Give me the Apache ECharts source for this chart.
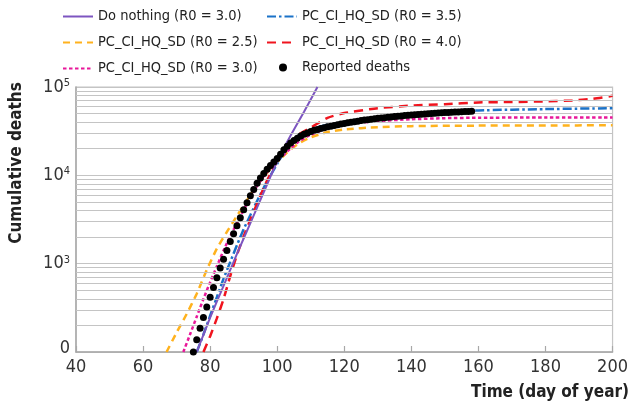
<!DOCTYPE html>
<html><head><meta charset="utf-8">
<script src="https://cdn.jsdelivr.net/npm/echarts@6/dist/echarts.min.js"></script>
<style>html,body{margin:0;padding:0;background:#fff}#c{width:631px;height:406px}</style>
</head><body><div id="c"></div>
<script>
// ---- data ----
const xTicks = [40, 60, 80, 100, 120, 140, 160, 180, 200];
const yMajorTicks = [100, 1000, 10000, 100000];
const yMajorLabels = ['0', '10|3', '10|4', '10|5'];
const yMinorGrid = [200,300,400,500,600,700,800,900,2000,3000,4000,5000,6000,7000,8000,9000,20000,30000,40000,50000,60000,70000,80000,90000];

const doNothingDays = [76, 80, 84, 88, 92, 96, 100, 104, 108, 112];
const doNothingVals = [100, 245, 562, 1288, 2884, 6457, 14454, 28184, 52481, 100000];

const r25Days = [67, 70, 73, 76, 79, 82, 85, 88, 91, 94, 97, 100, 103, 106, 110, 115, 120, 130, 140, 160, 180, 200];
const r25Vals = [100, 166, 269, 457, 851, 1479, 2291, 3467, 5248, 7762, 10715, 14125, 18197, 22387, 26915, 30903, 33113, 35075, 36058, 36559, 36728, 36813];

const r30Days = [72, 74, 76, 78, 80, 82, 84, 86, 88, 90, 92, 94, 96, 98, 100, 103, 106, 110, 115, 120, 130, 140, 150, 160, 180, 200];
const r30Vals = [100, 158, 251, 398, 617, 933, 1413, 2042, 2884, 4074, 5623, 7586, 9772, 12023, 14454, 18621, 23442, 28840, 33884, 37584, 41210, 43152, 44361, 44875, 45186, 45290];

const r35Days = [76, 78, 80, 82, 84, 86, 88, 90, 92, 94, 96, 98, 100, 102, 105, 108, 112, 116, 120, 130, 140, 150, 160, 180, 200];
const r35Vals = [100, 158, 257, 417, 676, 1047, 1622, 2455, 3548, 5129, 7244, 10000, 13490, 18197, 25119, 30200, 35075, 38019, 39811, 44668, 48978, 51880, 54325, 56234, 57544];

const r40Days = [78, 80, 82, 84, 86, 88, 90, 92, 94, 96, 98, 100, 103, 106, 110, 115, 120, 130, 140, 150, 160, 170, 180, 188, 194, 200];
const r40Vals = [100, 151, 240, 398, 724, 1259, 2042, 3162, 4786, 7244, 10471, 14454, 21380, 28184, 34674, 44668, 50700, 57544, 61660, 63826, 66834, 67608, 68865, 70469, 73451, 79433];

const reportedStartDay = 75;
const reportedVals = [100,138,186,245,324,417,537,692,891,1122,
  1413,1778,2188,2692,3311,4074,4898,5888,6918,8128,
  9333,10471,11749,12882,14125,15488,17378,19498,21380,23174,
  24831,26303,27861,29174,30200,31261,32359,33113,33884,34674,
  35481,36058,36728,37325,38019,38637,39264,39811,40458,41020,
  41687,42170,42658,43152,43652,44157,44566,44978,45394,45814,
  46238,46666,47098,47534,47863,48195,48529,48865,49204,49545,
  49888,50234,50582,50816,51050,51286,51523,51761,52000,52240,
  52481,52723,52966,53211];

// ---- chart ----
const FONT = "'Liberation Sans Narrow', 'DejaVu Sans Condensed', Roboto, sans-serif";
const pairs = (d, v) => d.map((x, i) => [x, v[i]]);
const reportedData = reportedVals.map((v, i) => [reportedStartDay + i, v]);

const labelMap = {};
yMajorTicks.forEach((t, i) => labelMap[t] = yMajorLabels[i]);

const lineBase = {type: 'line', showSymbol: false, symbol: 'none', smooth: 0.2, silent: true, animation: false, z: 3};
const legText = {fontFamily: FONT, fontSize: 14.5, color: '#222'};

const chart = echarts.init(document.getElementById('c'), null, {renderer: 'canvas'});
chart.setOption({
  animation: false,
  textStyle: {fontFamily: FONT},
  grid: {left: 76, right: 18, top: 87, bottom: 54, show: true, borderColor: '#c4c4c4', borderWidth: 1.2},
  legend: [
    {left: 57, top: 4, orient: 'vertical', itemWidth: 30, itemHeight: 14, itemGap: 11,
     itemStyle: {opacity: 0}, textStyle: legText,
     data: ['Do nothing (R0 = 3.0)', 'PC_CI_HQ_SD (R0 = 2.5)', 'PC_CI_HQ_SD (R0 = 3.0)']},
    {left: 261, top: 4, orient: 'vertical', itemWidth: 30, itemHeight: 14, itemGap: 11,
     itemStyle: {opacity: 0}, textStyle: legText,
     data: ['PC_CI_HQ_SD (R0 = 3.5)', 'PC_CI_HQ_SD (R0 = 4.0)']},
    {left: 274, top: 55, orient: 'vertical', itemWidth: 8, itemHeight: 8,
     textStyle: Object.assign({padding: [0, 0, 0, 10]}, legText),
     data: ['Reported deaths']}
  ],
  xAxis: {
    type: 'value', min: 40, max: 200, interval: 20,
    axisLine: {show: true, lineStyle: {color: '#a8a8a8', width: 1.5}},
    axisTick: {show: true, inside: true, length: 6, lineStyle: {color: '#a8a8a8', width: 1.2}},
    splitLine: {show: false},
    axisLabel: {fontFamily: FONT, fontSize: 18, color: '#333', margin: 6,
      customValues: xTicks}
  },
  yAxis: {
    type: 'log', logBase: 10, min: 100, max: 100000,
    axisLine: {show: true, lineStyle: {color: '#a8a8a8', width: 1.5}},
    axisTick: {show: false},
    splitLine: {show: true, lineStyle: {color: '#c4c4c4', width: 1.2}},
    axisLabel: {
      margin: 6, color: '#333', fontFamily: FONT,
      formatter: function (v) {
        const l = labelMap[Math.round(v)];
        if (l === undefined) return '';
        if (l.indexOf('|') < 0) return '{z|' + l + '}';
        const p = l.split('|');
        return '{b|' + p[0] + '}{s|' + p[1] + '}';
      },
      rich: {
        b: {fontFamily: FONT, fontSize: 18, color: '#333'},
        z: {fontFamily: FONT, fontSize: 18, color: '#333', padding: [0, 0, 8, 0]},
        s: {fontFamily: FONT, fontSize: 11, color: '#333', padding: [0, 0, 8, 0]}
      }
    }
  },
  graphic: [
    {type: 'text', x: 17, y: 163, rotation: Math.PI / 2,
     style: {text: 'Cumulative deaths', font: "bold 17px " + FONT, fill: '#222', textAlign: 'center', textVerticalAlign: 'middle'}},
    {type: 'text', x: 629, y: 393,
     style: {text: 'Time (day of year)', font: "bold 17px " + FONT, fill: '#222', textAlign: 'right', textVerticalAlign: 'middle'}}
  ],
  series: [
    {type: 'line', name: 'grid', data: [], silent: true, z: 1,
     markLine: {silent: true, symbol: 'none', animation: false, label: {show: false},
       lineStyle: {color: '#c4c4c4', width: 1.2, type: 'solid'},
       data: yMinorGrid.map(v => ({yAxis: v}))}},
    Object.assign({}, lineBase, {name: 'PC_CI_HQ_SD (R0 = 2.5)', data: pairs(r25Days, r25Vals),
      itemStyle: {color: '#ffb21e'}, lineStyle: {color: '#ffb21e', width: 2.5, type: [7, 5]}}),
    Object.assign({}, lineBase, {name: 'PC_CI_HQ_SD (R0 = 3.0)', data: pairs(r30Days, r30Vals),
      itemStyle: {color: '#e8189a'}, lineStyle: {color: '#e8189a', width: 2.5, type: [3.5, 2.5]}}),
    Object.assign({}, lineBase, {name: 'PC_CI_HQ_SD (R0 = 3.5)', data: pairs(r35Days, r35Vals),
      itemStyle: {color: '#1b72c8'}, lineStyle: {color: '#1b72c8', width: 2.5, type: [9, 3, 2.5, 3]}}),
    Object.assign({}, lineBase, {name: 'PC_CI_HQ_SD (R0 = 4.0)', data: pairs(r40Days, r40Vals),
      itemStyle: {color: '#f0141e'}, lineStyle: {color: '#f0141e', width: 2.5, type: [9, 6]}}),
    Object.assign({}, lineBase, {name: 'Do nothing (R0 = 3.0)', data: pairs(doNothingDays, doNothingVals),
      itemStyle: {color: '#7d55c0'}, lineStyle: {color: '#7d55c0', width: 2, type: 'solid'}}),
    {type: 'scatter', name: 'Reported deaths', data: reportedData, symbol: 'circle', symbolSize: 7,
     itemStyle: {color: '#000', opacity: 1}, silent: true, z: 5}
  ]
});
</script>
</body></html>
